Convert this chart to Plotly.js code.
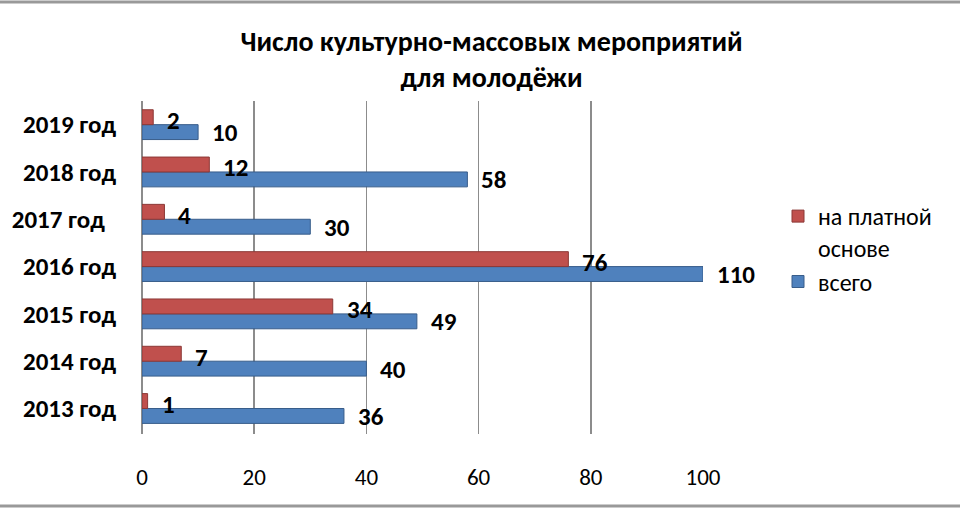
<!DOCTYPE html>
<html>
<head>
<meta charset="utf-8">
<script src="https://cdn.plot.ly/plotly-3.0.1.min.js"></script>
<style>html,body{margin:0;padding:0;background:#fff}#chart{width:960px;height:510px}</style>
</head>
<body>
<div id="chart"></div>
<script>
var categories = ['2013 год', '2014 год', '2015 год', '2016 год', '2017 год', '2018 год', '2019 год'];
var tickLabels = ['2013 год', '2014 год', '2015 год', '2016 год', '2017 год\u00a0\u00a0', '2018 год', '2019 год'];
var totalValues = [36, 40, 49, 110, 30, 58, 10];
var paidValues = [1, 7, 34, 76, 4, 12, 2];
var seriesNames = ['всего', 'на платной<br>основе'];
var axisMax = 100;

var FONT = 'Carlito, Calibri, "Liberation Sans", Arial, sans-serif';
var BLUE = '#4F81BD', BLUE_D = '#385D8A';
var RED = '#C0504D', RED_D = '#8C3836';

function clip(v) { return Math.min(v, axisMax); }

var traces = [
  {
    type: 'bar', orientation: 'h', name: seriesNames[0],
    y: categories, x: totalValues.map(clip),
    marker: {color: BLUE, line: {color: BLUE_D, width: 1}},
    hoverinfo: 'skip'
  },
  {
    type: 'bar', orientation: 'h', name: seriesNames[1],
    y: categories, x: paidValues.map(clip),
    marker: {color: RED, line: {color: RED_D, width: 1}},
    hoverinfo: 'skip'
  }
];

var annotations = [];
categories.forEach(function (c, i) {
  annotations.push({
    x: clip(totalValues[i]), y: c, xref: 'x', yref: 'y',
    text: '<b>' + totalValues[i] + '</b>', showarrow: false,
    xanchor: 'left', xshift: 12, yshift: -8,
    font: {family: FONT, size: 25, color: '#000'}
  });
  annotations.push({
    x: clip(paidValues[i]), y: c, xref: 'x', yref: 'y',
    text: '<b>' + paidValues[i] + '</b>', showarrow: false,
    xanchor: 'left', xshift: 12, yshift: 4,
    font: {family: FONT, size: 25, color: '#000'}
  });
});

var layout = {
  width: 960, height: 510,
  margin: {l: 142, r: 257, t: 101, b: 76},
  paper_bgcolor: '#fff', plot_bgcolor: '#fff',
  font: {family: FONT, color: '#000'},
  title: {
    text: '<b>Число культурно-массовых мероприятий<br>для молодёжи</b>',
    x: 0.512, xanchor: 'center', y: 1 - 51 / 510, yanchor: 'top',
    font: {family: FONT, size: 28, color: '#000'}
  },
  barmode: 'group', bargap: 0.37, bargroupgap: -0.08,
  xaxis: {
    range: [0, axisMax], dtick: 20, tick0: 0,
    showgrid: true, gridcolor: '#8c8c8c', gridwidth: 1.5,
    zeroline: true, zerolinecolor: '#8c8c8c', zerolinewidth: 1.5,
    showline: false, ticks: '', ticklabelstandoff: 27,
    tickfont: {family: FONT, size: 23, color: '#000'},
    fixedrange: true
  },
  yaxis: {
    type: 'category', categoryorder: 'array', categoryarray: categories,
    tickvals: categories, ticktext: tickLabels,
    showgrid: false, showline: false, ticks: '', zeroline: false,
    ticklabelstandoff: 25,
    tickfont: {family: FONT, size: 25, color: '#000', weight: 'bold'},
    fixedrange: true
  },
  showlegend: true,
  legend: {
    x: (778 - 142) / 561, xanchor: 'left', y: (434 - 194) / 333, yanchor: 'top',
    traceorder: 'reversed', valign: 'top',
    font: {family: FONT, size: 24, color: '#000'},
    itemwidth: 30, bgcolor: 'rgba(0,0,0,0)'
  },
  annotations: annotations,
  shapes: [
    {type: 'line', xref: 'paper', yref: 'paper', x0: -1, x1: 2, y0: 1 + 99 / 333, y1: 1 + 99 / 333, line: {color: '#999', width: 3}},
    {type: 'line', xref: 'paper', yref: 'paper', x0: -1, x1: 2, y0: -72 / 333, y1: -72 / 333, line: {color: '#999', width: 3}}
  ]
};

Plotly.newPlot('chart', traces, layout, {displayModeBar: false, staticPlot: true});
</script>
</body>
</html>
